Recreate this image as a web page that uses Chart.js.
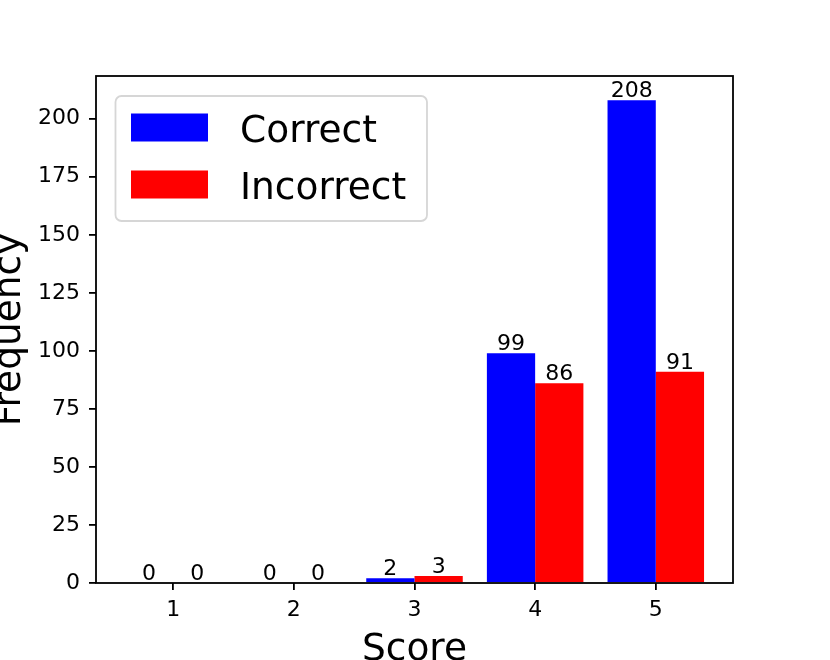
<!DOCTYPE html>
<html>
<head>
<meta charset="utf-8">
<script src="https://cdn.jsdelivr.net/npm/chart.js@4/dist/chart.umd.min.js"></script>
<style>
html,body{margin:0;padding:0;background:#fff;}
#wrap{width:830px;height:660px;position:relative;}
</style>
</head>
<body>
<div id="wrap"><canvas id="c" width="830" height="660"></canvas></div>
<script>
const scores = [1, 2, 3, 4, 5];
const correctCounts = [0, 0, 2, 99, 208];
const incorrectCounts = [0, 0, 3, 86, 91];
const yTickValues = [0, 25, 50, 75, 100, 125, 150, 175, 200];
const seriesNames = ['Correct', 'Incorrect'];
const seriesColors = ['#0000ff', '#ff0000'];
const xLabel = 'Score';
const yLabel = 'Frequency';

const FONT = '"DejaVu Sans", sans-serif';

const decorPlugin = {
  id: 'decor',
  afterDatasetsDraw(chart) {
    const ctx = chart.ctx;
    const ca = chart.chartArea;
    ctx.save();
    // value labels
    ctx.fillStyle = '#000';
    ctx.font = '22px ' + FONT;
    ctx.textAlign = 'center';
    ctx.textBaseline = 'alphabetic';
    chart.data.datasets.forEach((ds, di) => {
      const meta = chart.getDatasetMeta(di);
      meta.data.forEach((bar, i) => {
        ctx.fillText(String(ds.data[i].y), bar.x, bar.y - 3);
      });
    });
    // frame
    ctx.strokeStyle = '#000';
    ctx.lineWidth = 1.8;
    ctx.strokeRect(ca.left, ca.top, ca.right - ca.left, ca.bottom - ca.top);
    // legend
    const lx = 115.5, ly = 96, lw = 311.5, lh = 125, r = 6;
    ctx.beginPath();
    ctx.moveTo(lx + r, ly);
    ctx.arcTo(lx + lw, ly, lx + lw, ly + lh, r);
    ctx.arcTo(lx + lw, ly + lh, lx, ly + lh, r);
    ctx.arcTo(lx, ly + lh, lx, ly, r);
    ctx.arcTo(lx, ly, lx + lw, ly, r);
    ctx.closePath();
    ctx.fillStyle = 'rgba(255,255,255,0.8)';
    ctx.fill();
    ctx.strokeStyle = '#d6d6d6';
    ctx.lineWidth = 1.8;
    ctx.stroke();
    ctx.font = '37.5px ' + FONT;
    ctx.textAlign = 'left';
    chart.data.datasets.forEach((ds, di) => {
      const y0 = 113.5 + di * 57;
      ctx.fillStyle = ds.backgroundColor;
      ctx.fillRect(131, y0, 77, 28);
      ctx.fillStyle = '#000';
      ctx.fillText(ds.label, 240, y0 + 28.5);
    });
    // axis titles
    ctx.font = '37.5px ' + FONT;
    ctx.textAlign = 'center';
    ctx.fillText(xLabel, (ca.left + ca.right) / 2, 660);
    ctx.translate(19.5, (ca.top + ca.bottom) / 2);
    ctx.rotate(-Math.PI / 2);
    ctx.fillText(yLabel, 0, 0);
    ctx.restore();
  }
};

new Chart(document.getElementById('c'), {
  type: 'bar',
  data: {
    datasets: [
      { label: seriesNames[0], backgroundColor: seriesColors[0], borderWidth: 0,
        data: scores.map((s, i) => ({ x: s, y: correctCounts[i] })) },
      { label: seriesNames[1], backgroundColor: seriesColors[1], borderWidth: 0,
        data: scores.map((s, i) => ({ x: s, y: incorrectCounts[i] })) }
    ]
  },
  options: {
    responsive: false,
    animation: false,
    events: [],
    layout: { padding: { left: 0, top: 76, right: 97, bottom: 0 } },
    datasets: { bar: { categoryPercentage: 0.8, barPercentage: 1.0 } },
    plugins: { legend: { display: false }, tooltip: { enabled: false } },
    scales: {
      x: {
        type: 'linear',
        offset: false,
        min: 0.36, max: 5.64,
        afterBuildTicks: s => { s.ticks = scores.map(v => ({ value: v })); },
        afterFit: s => { s.height = 77; },
        border: { display: false },
        grid: { offset: false, drawOnChartArea: false, drawTicks: true, tickLength: 7, color: '#000', lineWidth: 1.8 },
        ticks: { color: '#000', font: { family: FONT, size: 22 }, padding: 7, maxRotation: 0,
                 callback: v => String(v) }
      },
      y: {
        min: 0, max: 218.4,
        afterBuildTicks: s => { s.ticks = yTickValues.map(v => ({ value: v })); },
        afterFit: s => { s.width = 96; },
        border: { display: false },
        grid: { drawOnChartArea: false, drawTicks: true, tickLength: 7, color: '#000', lineWidth: 1.8 },
        ticks: { color: '#000', font: { family: FONT, size: 22 }, padding: 9,
                 callback: v => String(v) }
      }
    }
  },
  plugins: [decorPlugin]
});
</script>
</body>
</html>
